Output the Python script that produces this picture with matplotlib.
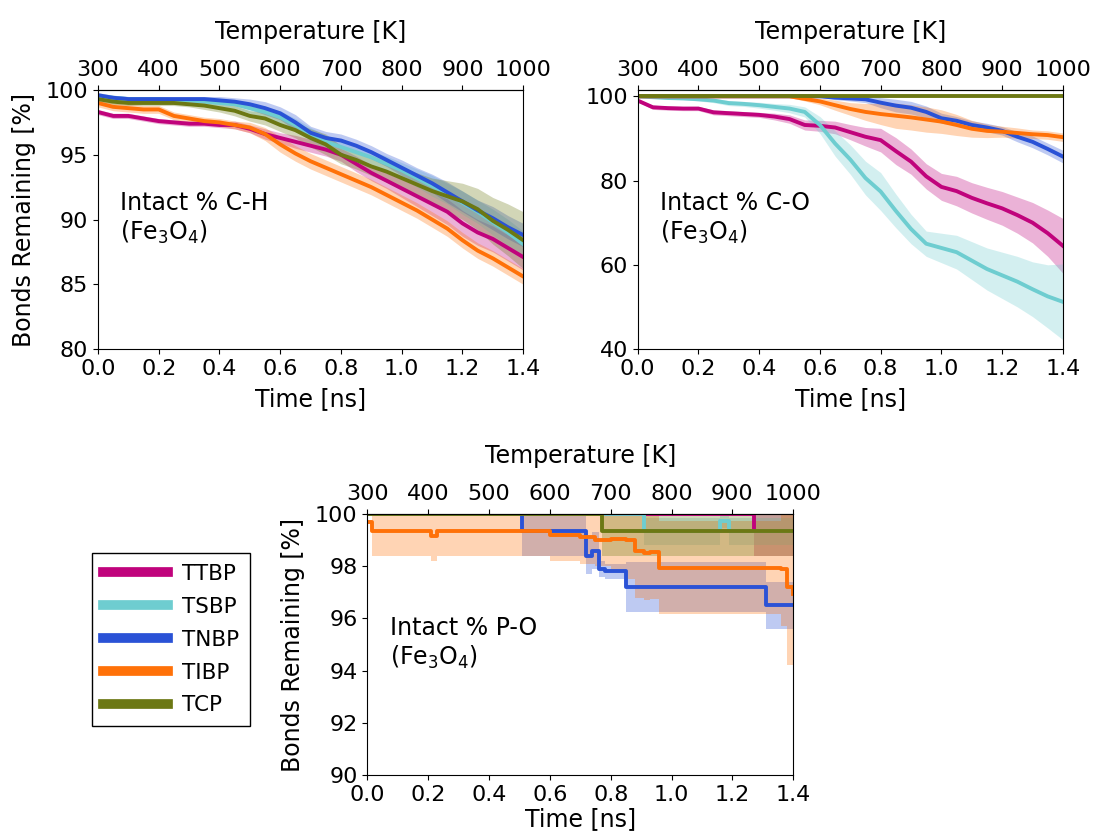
import numpy as np
import matplotlib
matplotlib.use('Agg')
import matplotlib.pyplot as plt
from matplotlib.lines import Line2D

names = ['TTBP', 'TSBP', 'TNBP', 'TIBP', 'TCP']
colors = ['#c0037c', '#6ecdd0', '#2a52d6', '#ff7108', '#6c7813']

# time grid for the C-H and C-O panels [ns]
t = np.round(np.arange(0, 1.401, 0.05), 2)

# Intact % C-H
ch_mean = {
    'TTBP': [98.3, 98.0, 98.0, 97.8, 97.6, 97.5, 97.4, 97.4, 97.3, 97.3, 97.0, 96.6, 96.3, 96.0, 95.7,
             95.4, 95.0, 94.3, 93.6, 93.0, 92.4, 91.8, 91.2, 90.6, 89.7, 89.0, 88.5, 87.8, 87.1],
    'TSBP': [99.5, 99.4, 99.3, 99.3, 99.3, 99.2, 99.2, 99.1, 99.0, 98.9, 98.6, 98.3, 97.9, 97.3, 96.6,
             96.0, 95.6, 95.2, 94.8, 94.3, 93.8, 93.2, 92.6, 92.0, 91.3, 90.6, 89.8, 89.0, 88.1],
    'TNBP': [99.6, 99.4, 99.3, 99.3, 99.3, 99.3, 99.3, 99.3, 99.2, 99.1, 98.9, 98.6, 98.2, 97.5, 96.7,
             96.3, 96.1, 95.7, 95.2, 94.6, 94.0, 93.4, 92.8, 92.1, 91.4, 90.7, 90.1, 89.4, 88.8],
    'TIBP': [99.0, 98.7, 98.6, 98.5, 98.5, 98.0, 97.8, 97.6, 97.5, 97.3, 97.1, 96.6, 95.8, 95.1, 94.5,
             94.0, 93.5, 93.0, 92.5, 91.9, 91.3, 90.7, 90.0, 89.3, 88.4, 87.6, 87.0, 86.3, 85.6],
    'TCP':  [99.3, 99.1, 99.0, 99.0, 99.0, 99.0, 98.9, 98.8, 98.6, 98.4, 98.0, 97.8, 97.3, 96.9, 96.3,
             95.8, 95.0, 94.6, 94.1, 93.7, 93.2, 92.7, 92.2, 91.8, 91.4, 90.8, 89.9, 89.2, 88.4],
}
ch_sd = {
    'TTBP': [0.2, 0.2, 0.2, 0.2, 0.2, 0.2, 0.2, 0.2, 0.2, 0.3, 0.3, 0.4, 0.4, 0.5, 0.5,
             0.5, 0.5, 0.6, 0.6, 0.6, 0.7, 0.8, 0.9, 1.0, 1.0, 1.0, 1.0, 1.0, 1.0],
    'TSBP': [0.2, 0.2, 0.2, 0.2, 0.2, 0.2, 0.2, 0.2, 0.3, 0.3, 0.4, 0.4, 0.5, 0.5, 0.5,
             0.5, 0.5, 0.5, 0.5, 0.6, 0.6, 0.7, 0.8, 0.8, 0.9, 0.9, 1.0, 1.0, 1.0],
    'TNBP': [0.2, 0.2, 0.2, 0.2, 0.2, 0.2, 0.2, 0.2, 0.3, 0.3, 0.4, 0.5, 0.5, 0.6, 0.5,
             0.5, 0.5, 0.5, 0.5, 0.5, 0.6, 0.6, 0.7, 0.8, 0.8, 0.8, 0.9, 0.9, 0.9],
    'TIBP': [0.3, 0.3, 0.3, 0.3, 0.3, 0.3, 0.3, 0.3, 0.3, 0.3, 0.4, 0.5, 0.6, 0.6, 0.6,
             0.6, 0.6, 0.6, 0.6, 0.6, 0.6, 0.6, 0.6, 0.6, 0.6, 0.6, 0.6, 0.6, 0.6],
    'TCP':  [0.2, 0.2, 0.2, 0.2, 0.2, 0.2, 0.2, 0.3, 0.3, 0.4, 0.4, 0.5, 0.5, 0.6, 0.7,
             0.8, 0.7, 0.7, 0.7, 0.8, 0.8, 0.9, 1.0, 1.2, 1.4, 1.6, 1.8, 2.0, 2.2],
}

# Intact % C-O
co_mean = {
    'TTBP': [99.0, 97.4, 97.2, 97.1, 97.1, 96.2, 96.0, 95.8, 95.6, 95.2, 94.6, 93.2, 93.0, 92.6, 91.5,
             90.4, 89.6, 87.0, 84.5, 81.0, 78.5, 77.5, 75.9, 74.6, 73.4, 71.8, 70.0, 67.5, 64.5],
    'TSBP': [100.0, 99.8, 99.6, 99.5, 99.3, 99.0, 98.4, 98.2, 97.9, 97.5, 97.1, 96.3, 93.2, 88.8, 85.0,
             80.6, 77.4, 72.8, 68.5, 65.0, 64.0, 63.0, 61.0, 59.0, 57.5, 56.0, 54.2, 52.5, 51.2],
    'TNBP': [100.0, 100.0, 100.0, 100.0, 100.0, 100.0, 100.0, 100.0, 100.0, 100.0, 100.0, 100.0, 100.0,
             99.7, 99.5, 99.3, 98.5, 97.8, 97.3, 96.3, 94.8, 94.2, 93.2, 92.6, 91.8, 90.4, 89.2, 87.5, 85.7],
    'TIBP': [100.0, 100.0, 100.0, 100.0, 100.0, 100.0, 100.0, 100.0, 100.0, 100.0, 100.0, 99.4, 98.8,
             97.9, 97.0, 96.3, 95.8, 95.4, 95.0, 94.5, 94.0, 93.2, 92.3, 91.8, 91.6, 91.3, 91.0, 90.8, 90.3],
    'TCP':  [100.0] * 29,
}
co_sd = {
    'TTBP': [0.3, 0.5, 0.5, 0.5, 0.5, 0.6, 0.6, 0.6, 0.6, 0.8, 1.0, 1.2, 1.3, 1.5, 1.8,
             2.2, 2.8, 3.2, 3.0, 3.0, 3.2, 3.5, 3.6, 3.8, 4.0, 4.3, 4.8, 5.5, 6.5],
    'TSBP': [0.0, 0.2, 0.3, 0.3, 0.4, 0.5, 0.6, 0.6, 0.7, 0.8, 1.0, 1.2, 2.0, 3.0, 3.5,
             4.0, 4.5, 4.0, 3.5, 3.0, 3.5, 4.0, 4.5, 5.0, 5.5, 6.0, 6.5, 7.5, 9.0],
    'TNBP': [0.0, 0.0, 0.0, 0.0, 0.0, 0.0, 0.0, 0.0, 0.0, 0.0, 0.0, 0.0, 0.2, 0.5, 0.6,
             0.8, 1.2, 1.5, 1.5, 1.4, 1.2, 1.0, 1.0, 1.0, 1.0, 1.2, 1.4, 1.4, 1.5],
    'TIBP': [0.0, 0.0, 0.0, 0.0, 0.0, 0.0, 0.0, 0.0, 0.0, 0.0, 0.3, 0.5, 0.8, 1.2, 1.5,
             2.0, 2.5, 3.0, 3.0, 3.0, 2.8, 2.5, 2.0, 1.6, 1.3, 1.2, 1.0, 1.0, 1.0],
    'TCP':  [0.0] * 29,
}

# Intact % P-O (step changes: time, value, spread)
po_t = {
    'TTBP': [0.0, 1.27, 1.4],
    'TSBP': [0.0, 0.91, 1.16, 1.19, 1.4],
    'TNBP': [0.0, 0.51, 0.72, 0.74, 0.76, 0.78, 0.85, 1.31, 1.4],
    'TIBP': [0.0, 0.015, 0.21, 0.23, 0.55, 0.6, 0.7, 0.75, 0.8, 0.85, 0.88, 0.91, 0.93, 0.96, 1.36, 1.38, 1.4],
    'TCP':  [0.0, 0.77, 1.4],
}
po_mean = {
    'TTBP': [100.0, 99.33, 99.33],
    'TSBP': [100.0, 99.33, 99.75, 99.33, 99.33],
    'TNBP': [100.0, 99.33, 98.4, 98.6, 97.9, 97.8, 97.2, 96.5, 96.5],
    'TIBP': [99.7, 99.33, 99.15, 99.33, 99.33, 99.2, 99.1, 99.0, 99.05, 99.0, 98.6, 98.5, 98.55, 97.95,
             97.9, 97.2, 96.95],
    'TCP':  [100.0, 99.33, 99.33],
}
po_sd = {
    'TTBP': [0.0, 0.93, 0.93],
    'TSBP': [0.0, 0.5, 0.3, 0.5, 0.5],
    'TNBP': [0.0, 0.93, 0.7, 0.7, 0.3, 0.3, 0.95, 0.9, 0.9],
    'TIBP': [0.0, 0.95, 0.95, 0.95, 0.95, 1.0, 1.0, 1.0, 1.2, 1.5, 1.8, 1.8, 1.8, 1.8, 2.2, 3.0, 3.0],
    'TCP':  [0.0, 0.93, 0.93],
}

plt.rcParams['font.size'] = 16

fig = plt.figure(figsize=(10.96, 8.32), dpi=100)
ax1 = fig.add_axes([0.0894, 0.5805, 0.388, 0.3113])
ax2 = fig.add_axes([0.5818, 0.5805, 0.388, 0.3113])
ax3 = fig.add_axes([0.3352, 0.0685, 0.3885, 0.3137])

for name, c in zip(names, colors):
    m = np.array(ch_mean[name]); s = np.array(ch_sd[name])
    ax1.fill_between(t, m - s, m + s, color=c, alpha=0.3, lw=0)
    ax1.plot(t, m, color=c, lw=2.8)

    m = np.array(co_mean[name]); s = np.array(co_sd[name])
    ax2.fill_between(t, m - s, m + s, color=c, alpha=0.3, lw=0)
    ax2.plot(t, m, color=c, lw=2.8)

    tt = np.array(po_t[name]); m = np.array(po_mean[name]); s = np.array(po_sd[name])
    ax3.fill_between(tt, m - s, m + s, color=c, alpha=0.3, lw=0, step='post')
    ax3.plot(tt, m, color=c, lw=2.8, drawstyle='steps-post')

panels = [(ax1, 'Intact % C-H', (80, 100), [80, 85, 90, 95, 100], 6),
          (ax2, 'Intact % C-O', (40, 101.5), [40, 60, 80, 100], 6),
          (ax3, 'Intact % P-O', (90, 100), [90, 92, 94, 96, 98, 100], 2)]

for ax, label, ylim, yt, pad in panels:
    ax.set_xlim(0, 1.4)
    ax.set_ylim(*ylim)
    ax.set_yticks(yt)
    ax.set_xticks(np.round(np.arange(0, 1.41, 0.2), 1))
    ax.set_xlabel('Time [ns]', fontsize=17, labelpad=pad)
    ax.text(0.052, 0.505, label + '\n(Fe$_3$O$_4$)', transform=ax.transAxes, va='center', ha='left',
            fontsize=17)
    sec = ax.secondary_xaxis('top', functions=(lambda x: 300 + 500 * x, lambda T: (T - 300) / 500))
    sec.set_xticks(np.arange(300, 1001, 100))
    sec.set_xlabel('Temperature [K]', fontsize=17, labelpad=15.5)

ax1.set_ylabel('Bonds Remaining [%]', fontsize=17, labelpad=7)
ax3.set_ylabel('Bonds Remaining [%]', fontsize=17, labelpad=7)

handles = [Line2D([], [], color=c, lw=7) for c in colors]
fig.legend(handles, names, loc='upper left', bbox_to_anchor=(92 / 1096, 1 - 553 / 832),
           fancybox=False, edgecolor='black', framealpha=1, fontsize=15.5,
           handlelength=3.05, handletextpad=0.65, borderaxespad=0, borderpad=0.5,
           labelspacing=0.6)

fig.savefig('out.png', dpi=100)
